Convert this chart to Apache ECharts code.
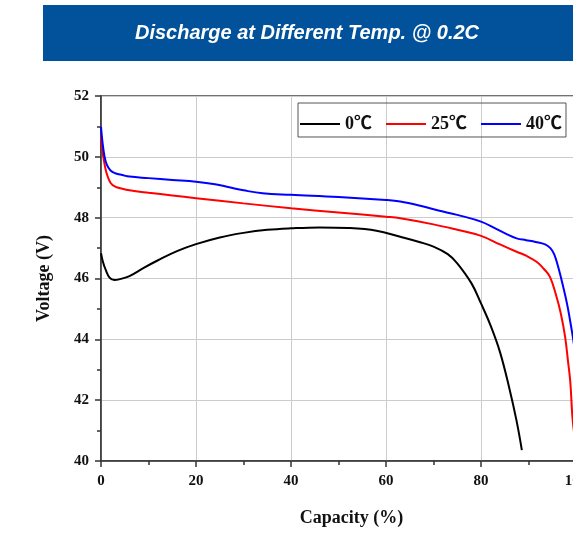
<!DOCTYPE html>
<html>
<head>
<meta charset="utf-8">
<script src="https://cdn.jsdelivr.net/npm/echarts@6/dist/echarts.min.js"></script>
<style>
  html, body { margin:0; padding:0; background:#fff; }
  #chart { width:573px; height:535px; }
</style>
</head>
<body>
<div id="chart"></div>
<script>
// capacity (%) / voltage (V)
const cap0  = [0, 0.4, 1.0, 1.8, 2.8, 4, 6, 9, 12, 16, 20, 25, 30, 35, 40, 46, 52, 58, 63, 67, 70, 73, 75, 78, 80, 82, 84, 86, 87.5, 88.6];
const volt0 = [46.83, 46.55, 46.28, 46.03, 45.95, 45.98, 46.08, 46.35, 46.6, 46.9, 47.13, 47.35, 47.5, 47.6, 47.65, 47.68, 47.66, 47.57, 47.37, 47.2, 47.05, 46.8, 46.5, 45.84, 45.18, 44.46, 43.58, 42.37, 41.31, 40.36];

const cap25  = [0, 0.3, 0.7, 1.2, 2, 3, 4.5, 6, 10, 15, 20, 30, 40, 50, 60, 63, 70, 75, 80, 84, 87.5, 89.5, 91.7, 93.2, 94.5, 95.9, 96.8, 97.7, 98.3, 98.8, 99.3, 100];
const volt25 = [50.66, 50.2, 49.8, 49.45, 49.15, 49.02, 48.95, 48.9, 48.82, 48.73, 48.64, 48.47, 48.31, 48.17, 48.03, 47.98, 47.78, 47.6, 47.4, 47.12, 46.88, 46.75, 46.55, 46.32, 46.06, 45.4, 44.85, 44.09, 43.3, 42.6, 41.35, 40.5];

const cap40  = [0, 0.3, 0.7, 1.2, 2, 3, 4.5, 6, 10, 15, 20, 24, 27, 30, 34, 40, 50, 60, 63, 67, 72, 76, 80, 83, 85.5, 87.5, 89.5, 91.5, 93.5, 94.6, 95.4, 96.3, 97.3, 98.2, 99.1, 99.6];
const volt40 = [50.99, 50.5, 50.05, 49.75, 49.55, 49.46, 49.4, 49.35, 49.3, 49.24, 49.18, 49.1, 49.0, 48.9, 48.8, 48.75, 48.68, 48.58, 48.53, 48.4, 48.2, 48.05, 47.87, 47.65, 47.45, 47.32, 47.26, 47.2, 47.12, 47.0, 46.8, 46.35, 45.73, 45.1, 44.3, 43.8];

const seriesNames = ['0℃', '25℃', '40℃'];
const seriesColors = ['#000000', '#ff0000', '#0000ff'];
const titleText = 'Discharge at Different Temp. @ 0.2C';

const pairs = (xs, ys) => xs.map((x, i) => [x, ys[i]]);
const serif = '"Liberation Serif", "Times New Roman", serif';

const chart = echarts.init(document.getElementById('chart'));

const makeLine = (name, data, color) => ({
  name: name,
  type: 'line',
  data: data,
  smooth: 0.4,
  showSymbol: false,
  lineStyle: { color: color, width: 2 },
  itemStyle: { color: color }
});

chart.setOption({
  animation: false,
  graphic: [
    {
      type: 'rect',
      shape: { x: 43, y: 5, width: 530, height: 56 },
      style: { fill: '#02519b' }
    },
    {
      type: 'text',
      x: 307, y: 33,
      style: {
        text: titleText,
        fill: '#ffffff',
        font: 'italic bold 20px "Liberation Sans", Arial, sans-serif',
        textAlign: 'center',
        textVerticalAlign: 'middle'
      }
    }
  ],
  legend: {
    data: seriesNames,
    left: 298,
    top: 103,
    orient: 'horizontal',
    itemWidth: 40,
    itemHeight: 2,
    itemGap: 14,
    icon: 'rect',
    borderColor: '#555',
    borderWidth: 1,
    padding: [12, 4, 4, 2],
    textStyle: {
      fontFamily: '"Liberation Serif", "Noto Sans CJK SC", serif',
      fontWeight: 'bold', fontSize: 18, color: '#111'
    }
  },
  grid: {
    left: 101,
    top: 96,
    width: 475,
    height: 365,
    containLabel: false,
    outerBoundsMode: 'none',
    show: true,
    borderColor: '#444',
    borderWidth: 1.5
  },
  xAxis: {
    type: 'value',
    min: 0,
    max: 100,
    interval: 20,
    name: 'Capacity (%)',
    nameLocation: 'middle',
    nameGap: 48,
    nameTextStyle: { fontFamily: serif, fontWeight: 'bold', fontSize: 18, color: '#111', padding: [0, 0, 0, 26] },
    axisLine: { lineStyle: { color: '#333', width: 1.5 } },
    axisTick: { show: true, length: 6, lineStyle: { color: '#333', width: 1.5 } },
    minorTick: { show: true, splitNumber: 2, length: 4, lineStyle: { color: '#333', width: 1.5 } },
    axisLabel: { fontFamily: serif, fontWeight: 'bold', fontSize: 15, color: '#111', margin: 13 },
    splitLine: { show: true, lineStyle: { color: '#cccccc', width: 1 } }
  },
  yAxis: {
    type: 'value',
    min: 40,
    max: 52,
    interval: 2,
    name: 'Voltage (V)',
    nameLocation: 'middle',
    nameGap: 48,
    nameTextStyle: { fontFamily: serif, fontWeight: 'bold', fontSize: 18, color: '#111' },
    axisLine: { show: true, lineStyle: { color: '#333', width: 1.5 } },
    axisTick: { show: true, length: 6, lineStyle: { color: '#333', width: 1.5 } },
    minorTick: { show: true, splitNumber: 2, length: 4, lineStyle: { color: '#333', width: 1.5 } },
    axisLabel: { fontFamily: serif, fontWeight: 'bold', fontSize: 15, color: '#111', margin: 12 },
    splitLine: { show: true, lineStyle: { color: '#cccccc', width: 1 } }
  },
  series: [
    makeLine(seriesNames[0], pairs(cap0, volt0), seriesColors[0]),
    makeLine(seriesNames[1], pairs(cap25, volt25), seriesColors[1]),
    makeLine(seriesNames[2], pairs(cap40, volt40), seriesColors[2])
  ]
});
</script>
</body>
</html>
